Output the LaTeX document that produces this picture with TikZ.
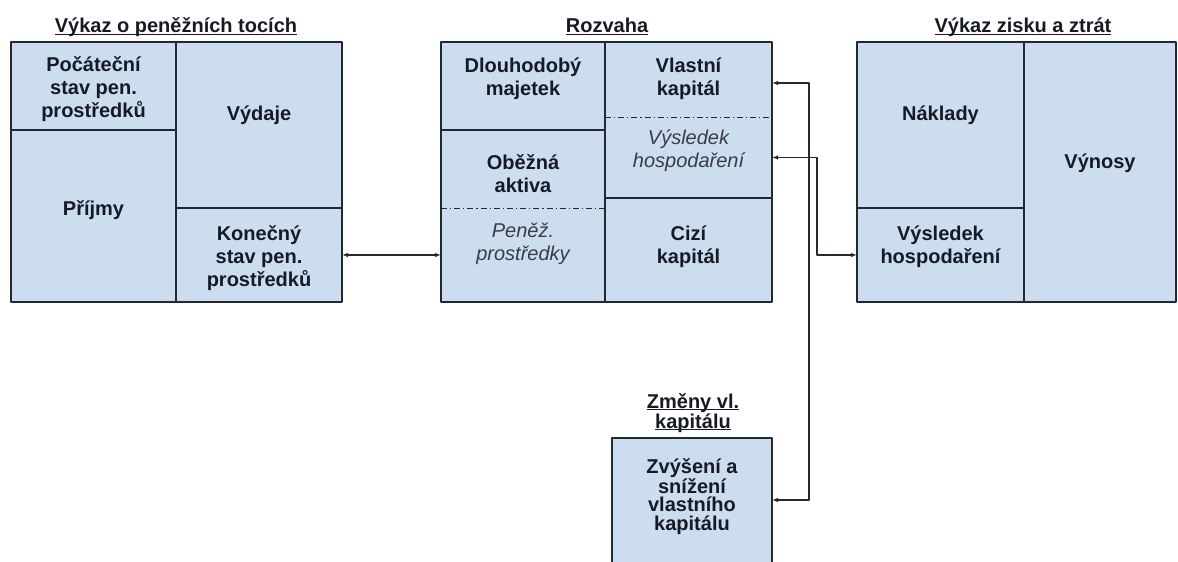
\documentclass[tikz,border=0pt]{standalone}
\usepackage{fontspec}
\setmainfont{Liberation Sans}
\usetikzlibrary{arrows.meta}

\definecolor{boxblue}{RGB}{205,221,240}
\definecolor{edgecol}{RGB}{38,40,48}
\definecolor{txtcol}{RGB}{22,26,36}
\definecolor{subcol}{RGB}{58,60,68}

\newcommand{\headline}[1]{\underline{\smash{#1}}}

\begin{document}
\begin{tikzpicture}[>={Latex[length=6bp,width=4.5bp]},line join=bevel,
  cell/.style={fill=boxblue,draw=edgecol,line width=1.2bp,inner sep=0pt,outer sep=0pt},
  part/.style={fill=boxblue,inner sep=0pt,outer sep=0pt},
  edge/.style={draw=edgecol,line width=1.2bp},
  dashdot/.style={draw=edgecol,line width=0.9bp,dash pattern=on 6bp off 3bp on 1.2bp off 3bp},
  lbl/.style={font=\bfseries\fontsize{20bp}{23bp}\selectfont,text=txtcol,align=center,inner sep=0pt},
  sublbl/.style={font=\itshape\fontsize{20bp}{23bp}\selectfont,text=subcol,align=center,inner sep=0pt},
  headl/.style={font=\bfseries\fontsize{20bp}{20bp}\selectfont,text=txtcol,align=center,inner sep=0pt},
  conn/.style={draw=edgecol,line width=1.1bp}]
\useasboundingbox (0bp,0bp) rectangle (1178bp,562bp);
\clip (0bp,0bp) rectangle (1178bp,562bp);
%%
  % Node: Vykaz o penezich tocich
  \node[cell,minimum width=165bp,minimum height=88bp] (pocatecni) at (93.5bp,476bp) {};
  \node[cell,minimum width=165bp,minimum height=172bp] (prijmy) at (93.5bp,346bp) {};
  \node[cell,minimum width=166bp,minimum height=166bp] (vydaje) at (259bp,437bp) {};
  \node[cell,minimum width=166bp,minimum height=94bp] (konecny) at (259bp,307bp) {};
  \node[lbl] (t-pocatecni) at ([yshift=-3bp]pocatecni.center) {Počáteční\\stav pen.\\prostředků};
  \node[lbl] (t-prijmy) at ([yshift=6bp]prijmy.center) {Příjmy};
  \node[lbl] (t-vydaje) at ([yshift=10bp]vydaje.center) {Výdaje};
  \node[lbl] (t-konecny) at ([yshift=-3bp]konecny.center) {Konečný\\stav pen.\\prostředků};
  \node[headl,anchor=base] (h-cf) at (176bp,529bp) {\headline{Výkaz o peněžních tocích}};
  % Node: Rozvaha
  \node[cell,minimum width=164bp,minimum height=88bp] (dlouhodoby) at (523bp,476bp) {};
  \node[part,minimum width=164bp,minimum height=78bp] (obezna) at (523bp,393bp) {};
  \node[part,minimum width=164bp,minimum height=94bp] (penez) at (523bp,307bp) {};
  \node[part,minimum width=167bp,minimum height=75bp] (vlastni) at (688.5bp,482.5bp) {};
  \node[part,minimum width=167bp,minimum height=81bp] (vysledek) at (688.5bp,404.5bp) {};
  \node[cell,minimum width=167bp,minimum height=104bp] (cizi) at (688.5bp,312bp) {};
  \draw[edge] (obezna.north west) rectangle (penez.south east);
  \draw[edge] (vlastni.north west) rectangle (vysledek.south east);
  \draw[dashdot] (penez.north west) -- (penez.north east);
  \draw[dashdot] (vysledek.north west) -- (vysledek.north east);
  \node[lbl] (t-dlouhodoby) at ([yshift=7.5bp]dlouhodoby.center) {Dlouhodobý\\majetek};
  \node[lbl] (t-obezna) at ([yshift=-5bp]obezna.center) {Oběžná\\aktiva};
  \node[sublbl] (t-penez) at ([yshift=11.5bp]penez.center) {Peněž.\\prostředky};
  \node[lbl] (t-vlastni) at ([yshift=1bp]vlastni.center) {Vlastní\\kapitál};
  \node[sublbl] (t-vysledek) at ([yshift=6.5bp]vysledek.center) {Výsledek\\hospodaření};
  \node[lbl] (t-cizi) at ([yshift=3.5bp]cizi.center) {Cizí\\kapitál};
  \node[headl,anchor=base] (h-rozvaha) at (607bp,529bp) {\headline{Rozvaha}};
  % Node: Vykaz zisku a ztrat
  \node[cell,minimum width=167bp,minimum height=166bp] (naklady) at (940.5bp,437bp) {};
  \node[cell,minimum width=167bp,minimum height=94bp] (vh) at (940.5bp,307bp) {};
  \node[cell,minimum width=152bp,minimum height=260bp] (vynosy) at (1100bp,390bp) {};
  \node[lbl] (t-naklady) at ([yshift=10bp]naklady.center) {Náklady};
  \node[lbl] (t-vh) at ([yshift=8.5bp]vh.center) {Výsledek\\hospodaření};
  \node[lbl] (t-vynosy) at ([yshift=9bp]vynosy.center) {Výnosy};
  \node[headl,anchor=base] (h-vzz) at (1023bp,529bp) {\headline{Výkaz zisku a ztrát}};
  % Node: Zmeny vl. kapitalu
  \node[cell,minimum width=160bp,minimum height=132bp] (zmeny) at (692bp,58bp) {};
  \node[lbl,font=\bfseries\fontsize{20bp}{18.5bp}\selectfont] (t-zmeny) at ([yshift=7.5bp]zmeny.center) {Zvýšení a\\snížení\\vlastního\\kapitálu};
  \node[headl] (h-zmeny) at (693bp,143bp) {\headline{Změny vl.}\\\headline{kapitálu}};
%%
  % Edge: konecny <-> penez
  \draw[conn,<->] (konecny.east) -- (penez.west);
  % Edge: vlastni <-> zmeny
  \draw[conn,<->] ([yshift=-3.5bp]vlastni.east) -- ++(37bp,0bp) |- ([yshift=4bp]zmeny.east);
  % Edge: vysledek <-> vh
  \draw[conn,<->] (vysledek.east) -- ++(45bp,0bp) |- (vh.west);
%
\end{tikzpicture}
\end{document}
